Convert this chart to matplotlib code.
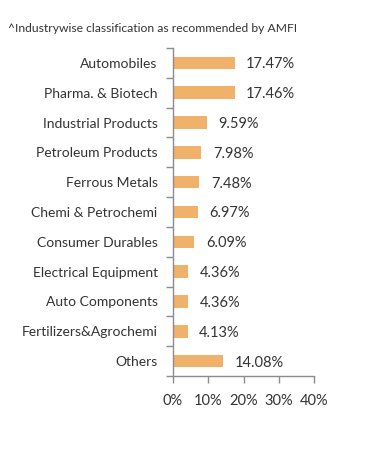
import matplotlib.pyplot as plt
import numpy as np

plt.rcParams['font.family'] = ['Lato', 'DejaVu Sans']

# data
sectors = ["Automobiles", "Pharma. & Biotech", "Industrial Products",
           "Petroleum Products", "Ferrous Metals", "Chemi & Petrochemi",
           "Consumer Durables", "Electrical Equipment", "Auto Components",
           "Fertilizers&Agrochemi", "Others"]
weights = [17.47, 17.46, 9.59, 7.98, 7.48, 6.97, 6.09, 4.36, 4.36, 4.13, 14.08]
xticks = [0, 10, 20, 30, 40]

bar_color = "#F0B26B"
text_color = "#333333"
axis_color = "#8C8C8C"

fig = plt.figure(figsize=(3.91, 4.5), dpi=100)
ax = fig.add_axes([173 / 391, 1 - 376 / 450, 141 / 391, 328 / 450])

ypos = np.arange(len(sectors))
ax.barh(ypos, weights, height=0.42, color=bar_color)

for y, w in zip(ypos, weights):
    ax.text(w + 3.3, y + 0.05, "%.2f%%" % w, va="center", ha="left",
            fontsize=10.5, color=text_color)

ax.set_xlim(0, 40)
ax.set_ylim(len(sectors) - 0.5, -0.5)
ax.set_yticks(ypos)
ax.set_yticklabels(sectors)
ax.set_yticks(np.arange(len(sectors) + 1) - 0.5, minor=True)
ax.tick_params(axis="y", which="major", length=0, pad=11,
               labelsize=10, labelcolor=text_color)
ax.tick_params(axis="y", which="minor", length=5, width=1, color=axis_color)
ax.set_xticks(xticks)
ax.set_xticklabels(["%d%%" % t for t in xticks])
ax.tick_params(axis="x", length=5, width=1, color=axis_color, pad=8,
               labelsize=10.5, labelcolor=text_color)

for s in ["top", "right"]:
    ax.spines[s].set_visible(False)
for s in ["left", "bottom"]:
    ax.spines[s].set_color(axis_color)
    ax.spines[s].set_linewidth(1)

fig.text(8 / 391, 1 - 28 / 450, "^Industrywise classification as recommended by AMFI",
         fontsize=8.7, color=text_color, va="center", ha="left")

fig.savefig("out.png", dpi=100, facecolor="white")
